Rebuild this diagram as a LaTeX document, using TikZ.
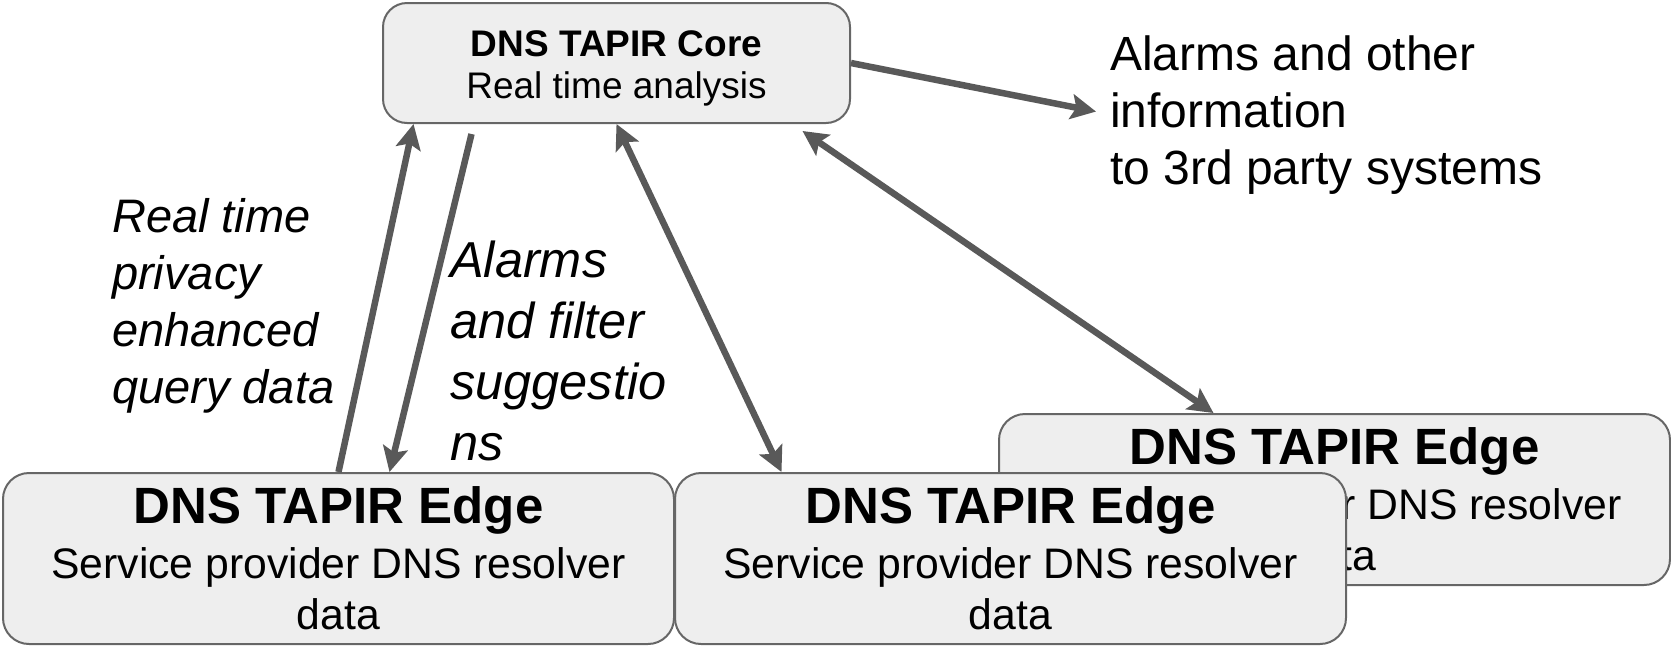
\documentclass[tikz,border=0pt]{standalone}
\usepackage{fontspec}
\setmainfont{Liberation Sans}
\usetikzlibrary{arrows.meta}
\definecolor{boxfill}{HTML}{EEEEEE}
\definecolor{boxline}{HTML}{666666}
\definecolor{arrgray}{HTML}{595959}
\tikzset{edgebox/.style={draw=boxline,fill=boxfill,line width=2pt,rounded corners=26pt,
 minimum width=671pt,minimum height=171pt,inner sep=0pt,align=center,
 font=\fontsize{42.7}{51}\selectfont},
 corebox/.style={draw=boxline,fill=boxfill,line width=2pt,rounded corners=24pt,
 minimum width=467pt,minimum height=120pt,inner sep=0pt,align=center,
 font=\fontsize{37}{42}\selectfont},
 tip/.tip={Stealth[length=25pt,width=25pt,inset=5pt]},
 arr/.style={-tip,draw=arrgray,line width=6.5pt},
 biarr/.style={arr,tip-tip},
 note/.style={align=left,inner sep=0pt,anchor=north west,font=\fontsize{48}{57}\selectfont},
 flow/.style={note,font=\itshape\fontsize{47}{57}\selectfont}}

\begin{document}
\begin{tikzpicture}[x=1pt,y=-1pt]
\useasboundingbox (0,0) rectangle (1671,646);
\node[corebox] (core) at (616.5,63) {\rule{0pt}{37pt}{\bfseries DNS TAPIR Core}\\Real time analysis};
\node[edgebox] (edge3) at (1334.5,499.5) {{\fontsize{51}{51}\selectfont\bfseries DNS TAPIR Edge}\\[4pt]Service provider DNS resolver\\data};
\node[edgebox] (edge1) at (338.5,558.5) {{\fontsize{51}{51}\selectfont\bfseries DNS TAPIR Edge}\\[4pt]Service provider DNS resolver\\data};
\node[edgebox] (edge2) at (1010.5,558.5) {{\fontsize{51}{51}\selectfont\bfseries DNS TAPIR Edge}\\[4pt]Service provider DNS resolver\\data};
\node[note] (alarms) at (1110,36) {Alarms and other\\information\\to 3rd party systems};
\node[flow] (feed) at (112,198) {Real time\\privacy\\enhanced\\query data};
\node[flow,font=\itshape\fontsize{50.5}{61}\selectfont] (filt) at (450,241) {Alarms\\and filter\\suggestio\\ns};
\draw[arr] (edge1.north) -- ([xshift=-203pt]core.south);
\draw[arr] ([xshift=-145pt,yshift=-10pt]core.south) -- ([xshift=51pt]edge1.north);
\draw[biarr] (core.south) -- ([xshift=-229pt]edge2.north);
\draw[biarr] ([xshift=186pt,yshift=-7pt]core.south) -- ([xshift=-121pt]edge3.north);
\draw[arr] (core.east) -- ([xshift=-14pt,yshift=4pt]alarms.west);
\end{tikzpicture}
\end{document}
